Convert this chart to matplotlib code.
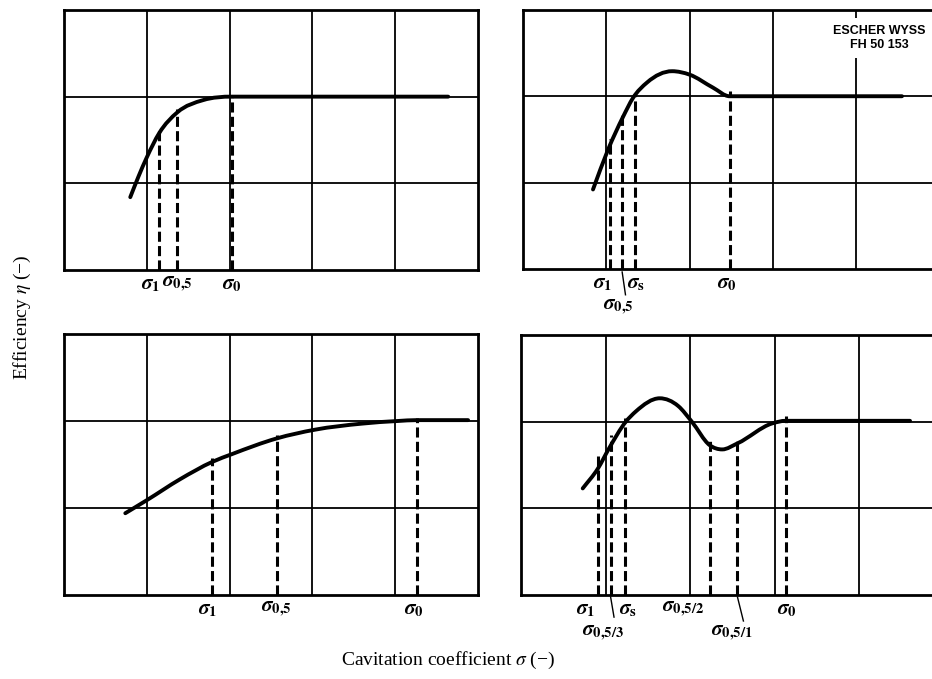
import numpy as np
import matplotlib
matplotlib.use('Agg')
from matplotlib import pyplot as plt
from matplotlib.path import Path
from matplotlib.patches import PathPatch

plt.rcParams['font.family'] = ['Liberation Serif', 'DejaVu Serif']
plt.rcParams['mathtext.fontset'] = 'stix'

# curves, in grid units (x: columns, y: rows from bottom)
tl_x = [0.80, 0.90, 1.00, 1.15, 1.37, 1.68, 2.03, 3.0, 4.64]
tl_y = [0.84, 1.08, 1.30, 1.58, 1.82, 1.96, 2.00, 2.00, 2.00]
tr_x = [0.84, 1.02, 1.20, 1.32, 1.49, 1.79, 2.00, 2.28, 2.48, 3.2, 4.55]
tr_y = [0.92, 1.38, 1.76, 1.98, 2.16, 2.29, 2.25, 2.10, 2.00, 2.00, 2.00]
bl_x = [0.74, 1.00, 1.40, 1.79, 2.03, 2.57, 3.03, 3.60, 4.03, 4.26, 4.88]
bl_y = [0.94, 1.09, 1.33, 1.53, 1.62, 1.80, 1.90, 1.97, 2.00, 2.01, 2.01]
br_x = [0.73, 0.91, 1.04, 1.24, 1.36, 1.64, 1.86, 2.02, 2.23, 2.38, 2.56, 2.97, 3.13, 4.60]
br_y = [1.23, 1.46, 1.69, 2.00, 2.12, 2.27, 2.18, 2.00, 1.73, 1.68, 1.75, 1.98, 2.01, 2.01]

# marked cavitation coefficients: position and efficiency there
tl_sig = [1.15, 1.37, 2.03]
tl_eta = [1.62, 1.86, 2.02]
tr_sig = [1.05, 1.19, 1.34, 2.48]
tr_eta = [1.50, 1.78, 2.02, 2.06]
bl_sig = [1.79, 2.57, 4.26]
bl_eta = [1.58, 1.84, 2.03]
br_sig = [0.91, 1.06, 1.23, 2.24, 2.56, 3.13]
br_eta = [1.60, 1.85, 2.04, 1.80, 1.80, 2.06]

# labels: text, sigma glyph centre, row
S = r'\boldsymbol{\sigma}'
tl_lab = [(rf'${S}_\mathbf{{1}}$', 1.04, 0), (rf'${S}_{{\mathbf{{0{{,}}5}}}}$', 1.37, 0),
          (rf'${S}_\mathbf{{0}}$', 2.03, 0)]
tr_lab = [(rf'${S}_\mathbf{{1}}$', 0.96, 0), (rf'${S}_\mathbf{{s}}$', 1.36, 0),
          (rf'${S}_\mathbf{{0}}$', 2.45, 0), (rf'${S}_{{\mathbf{{0{{,}}5}}}}$', 1.14, 1)]
bl_lab = [(rf'${S}_\mathbf{{1}}$', 1.73, 0), (rf'${S}_{{\mathbf{{0{{,}}5}}}}$', 2.56, 0),
          (rf'${S}_\mathbf{{0}}$', 4.23, 0)]
br_lab = [(rf'${S}_\mathbf{{1}}$', 0.76, 0), (rf'${S}_\mathbf{{s}}$', 1.27, 0),
          (rf'${S}_{{\mathbf{{0{{,}}5/2}}}}$', 1.92, 0), (rf'${S}_\mathbf{{0}}$', 3.14, 0),
          (rf'${S}_{{\mathbf{{0{{,}}5/3}}}}$', 0.97, 1), (rf'${S}_{{\mathbf{{0{{,}}5/1}}}}$', 2.49, 1)]


def smooth_path(xs, ys):
    x = np.asarray(xs, float)
    y = np.asarray(ys, float)
    h = np.diff(x)
    d = np.diff(y) / h
    m = np.empty_like(x)
    m[0], m[-1] = d[0], d[-1]
    for i in range(1, len(x) - 1):
        if d[i - 1] * d[i] <= 0:
            m[i] = 0.0
        else:
            m[i] = (d[i - 1] * h[i] + d[i] * h[i - 1]) / (h[i - 1] + h[i])
    verts = [(x[0], y[0])]
    codes = [Path.MOVETO]
    for i in range(len(x) - 1):
        verts += [(x[i] + h[i] / 3, y[i] + m[i] * h[i] / 3),
                  (x[i + 1] - h[i] / 3, y[i + 1] - m[i + 1] * h[i] / 3),
                  (x[i + 1], y[i + 1])]
        codes += [Path.CURVE4] * 3
    return Path(verts, codes)


def panel(rect, xmax, cx, cy, sig, eta, labels, leaders, right_open=False):
    ax = fig.add_axes(rect)
    ax.set_xlim(0, xmax)
    ax.set_ylim(0, 3)
    ax.set_xticks([1, 2, 3, 4])
    ax.set_yticks([1, 2])
    ax.grid(True, color='black', lw=1.3)
    ax.tick_params(length=0, labelbottom=False, labelleft=False)
    for s in ax.spines.values():
        s.set_linewidth(2.0)
    if right_open:
        ax.spines['right'].set_visible(False)
    ax.add_patch(PathPatch(smooth_path(cx, cy), fill=False, lw=2.8,
                           color='black', capstyle='round', zorder=4))
    ax.vlines(sig, 0, eta, colors='black', lw=2.2,
              linestyles=[(0, (3.3, 1.4))], zorder=3)
    tr = ax.get_xaxis_transform()
    for txt, x, row in labels:
        ax.annotate(txt, xy=(x, 0), xycoords=tr,
                    xytext=(0, -10.5 if row == 0 else -27.5),
                    textcoords='offset points', ha='center', va='center',
                    fontsize=15, annotation_clip=False)
    for x0, x1, y0, y1 in leaders:
        ax.plot([x0, x1], [y0, y1], transform=tr, color='black',
                lw=1.0, clip_on=False)
    return ax


fig = plt.figure(figsize=(9.32, 6.79), dpi=100)

panel([0.0687, 0.6024, 0.4442, 0.3829], 5.0, tl_x, tl_y, tl_sig, tl_eta, tl_lab, [])
panel([0.5612, 0.6040, 0.4388, 0.3814], 4.91, tr_x, tr_y, tr_sig, tr_eta, tr_lab,
      [(1.19, 1.23, -0.012, -0.10)], right_open=True)
panel([0.0687, 0.1237, 0.4442, 0.3844], 5.0, bl_x, bl_y, bl_sig, bl_eta, bl_lab, [])
panel([0.5590, 0.1237, 0.4410, 0.3829], 4.86, br_x, br_y, br_sig, br_eta, br_lab,
      [(1.06, 1.10, -0.008, -0.085), (2.56, 2.63, -0.008, -0.10)], right_open=True)

fig.text(0.943, 0.944, 'ESCHER WYSS\nFH 50 153', family='Liberation Sans',
         weight='bold', fontsize=9, ha='center', va='center',
         multialignment='center', linespacing=1.25,
         bbox=dict(facecolor='white', edgecolor='none', pad=5))

fig.text(0.024, 0.532, r'Efficiency $\eta$ (−)', rotation=90, fontsize=14,
         ha='center', va='center')
fig.text(0.481, 0.028, r'Cavitation coefficient $\sigma$ (−)', fontsize=14,
         ha='center', va='center')

fig.savefig('out.png', dpi=100)
